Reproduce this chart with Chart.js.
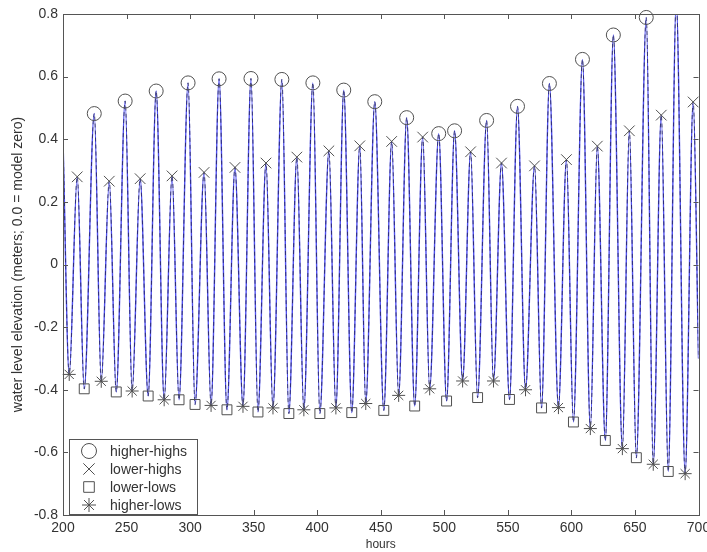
<!DOCTYPE html>
<html>
<head>
<meta charset="utf-8">
<script src="https://cdn.jsdelivr.net/npm/chart.js@4.4.1/dist/chart.umd.min.js"></script>
<style>
  html, body { margin: 0; padding: 0; background: #fff; }
  #wrap { width: 707px; height: 552px; }
</style>
</head>
<body>
<div id="wrap"><canvas id="tideChart" width="707" height="552"></canvas></div>
<script>
// Water level series at each high / low turning point
const hours = [
  200, 204.9, 211.2, 216.7, 224.6, 230.1, 236.4, 241.9, 248.9, 254.4,
  260.7, 267.0, 273.3, 279.6, 285.8, 291.3, 298.4, 303.9, 311.0, 316.5,
  322.8, 329.0, 335.3, 341.6, 347.9, 353.4, 359.7, 365.2, 372.2, 377.7,
  384.0, 389.5, 396.6, 402.1, 409.2, 414.7, 420.9, 427.2, 433.5, 438.2,
  445.3, 452.4, 458.6, 464.1, 470.4, 476.7, 483.0, 488.5, 495.6, 501.8,
  508.1, 514.4, 520.7, 526.2, 533.3, 538.7, 545.0, 551.3, 557.6, 563.9,
  571.0, 576.5, 582.7, 589.8, 596.1, 601.6, 608.7, 614.9, 620.4, 626.7,
  633.0, 640.1, 645.6, 651.1, 658.9, 664.4, 670.7, 676.2, 682.5, 689.5,
  695.8, 700
];
const elevation = [
  0.40, -0.351, 0.280, -0.397, 0.482, -0.373, 0.266, -0.407, 0.522, -0.404,
  0.274, -0.420, 0.554, -0.432, 0.283, -0.432, 0.580, -0.447, 0.294, -0.450,
  0.593, -0.464, 0.310, -0.453, 0.594, -0.471, 0.324, -0.458, 0.591, -0.476,
  0.343, -0.464, 0.580, -0.476, 0.363, -0.458, 0.557, -0.473, 0.379, -0.444,
  0.520, -0.466, 0.393, -0.418, 0.469, -0.452, 0.407, -0.397, 0.418, -0.436,
  0.427, -0.372, 0.360, -0.425, 0.460, -0.372, 0.324, -0.431, 0.505, -0.400,
  0.315, -0.458, 0.578, -0.457, 0.335, -0.503, 0.655, -0.524, 0.378, -0.562,
  0.733, -0.588, 0.427, -0.617, 0.789, -0.638, 0.477, -0.661, 0.840, -0.668,
  0.519, -0.30
];
// HH = higher-high, LH = lower-high, LL = lower-low, HL = higher-low
const extremeKind = [
  '',   'HL', 'LH', 'LL', 'HH', 'HL', 'LH', 'LL', 'HH', 'HL',
  'LH', 'LL', 'HH', 'HL', 'LH', 'LL', 'HH', 'LL', 'LH', 'HL',
  'HH', 'LL', 'LH', 'HL', 'HH', 'LL', 'LH', 'HL', 'HH', 'LL',
  'LH', 'HL', 'HH', 'LL', 'LH', 'HL', 'HH', 'LL', 'LH', 'HL',
  'HH', 'LL', 'LH', 'HL', 'HH', 'LL', 'LH', 'HL', 'HH', 'LL',
  'HH', 'HL', 'LH', 'LL', 'HH', 'HL', 'LH', 'LL', 'HH', 'HL',
  'LH', 'LL', 'HH', 'HL', 'LH', 'LL', 'HH', 'HL', 'LH', 'LL',
  'HH', 'HL', 'LH', 'LL', 'HH', 'HL', 'LH', 'LL', '',   'HL',
  'LH', ''
];
const xTicks = [200, 250, 300, 350, 400, 450, 500, 550, 600, 650, 700];
const yTicks = [-0.8, -0.6, -0.4, -0.2, 0, 0.2, 0.4, 0.6, 0.8];

const markerColor = 'rgb(80,80,80)';
const textColor = '#333';
const fontFamily = '"Liberation Sans", Arial, sans-serif';
const tickFont = { family: fontFamily, size: 14 };

const seriesPoints = hours.map((h, i) => ({ x: h, y: elevation[i] }));

function pointsOfKind(kind) {
  return hours
    .map((h, i) => ({ x: h, y: elevation[i], k: extremeKind[i] }))
    .filter(p => p.k === kind)
    .map(p => ({ x: p.x, y: p.y }));
}

function markerSet(label, kind, style, radius) {
  return {
    label: label,
    data: pointsOfKind(kind),
    showLine: false,
    pointStyle: style,
    pointRadius: radius,
    pointBorderColor: markerColor,
    pointBackgroundColor: 'rgba(0,0,0,0)',
    pointBorderWidth: 1,
    clip: false,
    order: 0
  };
}

// Matlab style box with inward ticks on all four sides
const boxPlugin = {
  id: 'boxPlugin',
  afterDraw(chart) {
    const ctx = chart.ctx;
    const a = chart.chartArea;
    const xs = chart.scales.x, ys = chart.scales.y;
    ctx.save();
    ctx.strokeStyle = '#555';
    ctx.lineWidth = 1;
    ctx.strokeRect(Math.round(a.left) + 0.5, Math.round(a.top) + 0.5,
      Math.round(a.right - a.left), Math.round(a.bottom - a.top));
    const tl = 5;
    ctx.beginPath();
    xTicks.forEach(v => {
      const px = Math.round(xs.getPixelForValue(v)) + 0.5;
      ctx.moveTo(px, a.bottom); ctx.lineTo(px, a.bottom - tl);
      ctx.moveTo(px, a.top); ctx.lineTo(px, a.top + tl);
    });
    yTicks.forEach(v => {
      const py = Math.round(ys.getPixelForValue(v)) + 0.5;
      ctx.moveTo(a.left, py); ctx.lineTo(a.left + tl, py);
      ctx.moveTo(a.right, py); ctx.lineTo(a.right - tl, py);
    });
    ctx.stroke();
    ctx.restore();
  }
};

// Legend box in the lower left corner of the plot
const cornerLegend = {
  id: 'cornerLegend',
  afterDraw(chart) {
    const ctx = chart.ctx;
    const a = chart.chartArea;
    const x0 = a.left + 6, y0 = a.bottom - 76, w = 128, h = 75;
    ctx.save();
    ctx.fillStyle = '#fff';
    ctx.fillRect(x0, y0, w, h);
    ctx.strokeStyle = '#555';
    ctx.lineWidth = 1;
    ctx.strokeRect(Math.round(x0) + 0.5, Math.round(y0) + 0.5, w, h);
    const markers = chart.data.datasets.filter(d => d.showLine === false);
    ctx.font = '14px ' + fontFamily;
    ctx.textBaseline = 'middle';
    markers.forEach((d, i) => {
      const cy = y0 + 12 + i * 18;
      ctx.strokeStyle = markerColor;
      ctx.fillStyle = 'rgba(0,0,0,0)';
      ctx.lineWidth = 1;
      Chart.helpers.drawPoint(ctx, {
        pointStyle: d.pointStyle, radius: d.pointRadius + 0.5, rotation: 0, borderWidth: 1
      }, x0 + 20, cy);
      ctx.fillStyle = textColor;
      ctx.fillText(d.label, x0 + 41, cy + 1);
    });
    ctx.restore();
  }
};

const ctx = document.getElementById('tideChart').getContext('2d');
new Chart(ctx, {
  type: 'line',
  data: {
    datasets: [
      markerSet('higher-highs', 'HH', 'circle', 7),
      markerSet('lower-highs', 'LH', 'crossRot', 7.5),
      markerSet('lower-lows', 'LL', 'rect', 7),
      markerSet('higher-lows', 'HL', 'star', 6.5),
      {
        label: 'model',
        data: seriesPoints,
        borderColor: 'rgba(30,30,70,0.7)',
        borderWidth: 1,
        borderDash: [4, 3],
        pointRadius: 0,
        cubicInterpolationMode: 'monotone',
        order: 1
      },
      {
        label: 'observed',
        data: seriesPoints,
        borderColor: 'rgba(60,60,240,0.9)',
        borderWidth: 1.4,
        pointRadius: 0,
        cubicInterpolationMode: 'monotone',
        order: 2
      }
    ]
  },
  options: {
    responsive: false,
    animation: false,
    devicePixelRatio: 1,
    layout: { padding: { top: 14, right: 8, left: 0, bottom: 0 } },
    plugins: {
      legend: { display: false },
      tooltip: { enabled: false }
    },
    scales: {
      x: {
        type: 'linear',
        min: 200,
        max: 700,
        afterBuildTicks: s => { s.ticks = xTicks.map(v => ({ value: v })); },
        afterFit: s => { s.height = 37; s.paddingLeft = 0; s.paddingRight = 0; },
        grid: { display: false, drawTicks: false },
        border: { display: false },
        ticks: { font: tickFont, color: textColor, padding: 5, maxRotation: 0, autoSkip: false },
        title: {
          display: true, text: 'hours', color: textColor,
          font: { family: fontFamily, size: 12 }, padding: { top: 0, bottom: 0 }
        }
      },
      y: {
        type: 'linear',
        min: -0.8,
        max: 0.8,
        afterBuildTicks: s => { s.ticks = yTicks.map(v => ({ value: v })); },
        afterFit: s => { s.width = 63; s.paddingTop = 0; s.paddingBottom = 0; },
        grid: { display: false, drawTicks: false },
        border: { display: false },
        ticks: {
          font: tickFont, color: textColor, padding: 5, autoSkip: false,
          callback: v => String(Math.round(v * 10) / 10)
        },
        title: {
          display: true,
          text: 'water level elevation (meters; 0.0 = model zero)',
          color: textColor,
          font: { family: fontFamily, size: 14 }, padding: { top: 10, bottom: 0 }
        }
      }
    }
  },
  plugins: [boxPlugin, cornerLegend]
});
</script>
</body>
</html>
